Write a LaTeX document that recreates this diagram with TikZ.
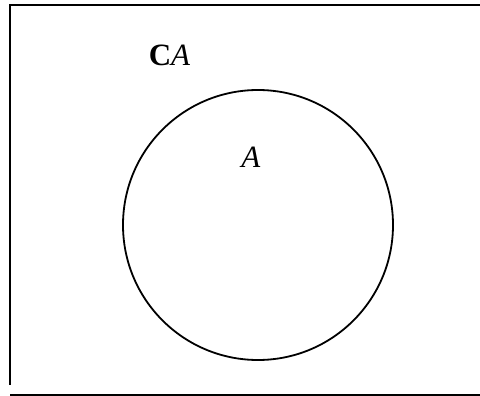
\documentclass[tikz,border=0pt]{standalone}
\usepackage{fontspec}
\setmainfont{Liberation Serif}
\begin{document}
\begin{tikzpicture}[x=1pt,y=-1pt,
  frameline/.style={line width=2pt},
  setline/.style={line width=1.8pt},
  lbl/.style={inner sep=0pt,font=\fontsize{31}{35}\selectfont}]
\useasboundingbox (0,0) rectangle (480,396);
\coordinate (tl) at (10,5);
\coordinate (tr) at (480,5);
\coordinate (lb) at (10,385);
\coordinate (bl) at (10,395);
\coordinate (br) at (480,395);
\draw[frameline] (tr) -- (tl) -- (lb);
\draw[frameline] (bl) -- (br);
\node[circle,draw,setline,minimum size=270pt,inner sep=0pt] (setA) at (258,225) {};
\node[lbl,anchor=base] (cA) at (169.5,66) {\textbf{C}\textit{A}};
\node[lbl,anchor=base] (inA) at (251,167.5) {\textit{A}};
\end{tikzpicture}
\end{document}
